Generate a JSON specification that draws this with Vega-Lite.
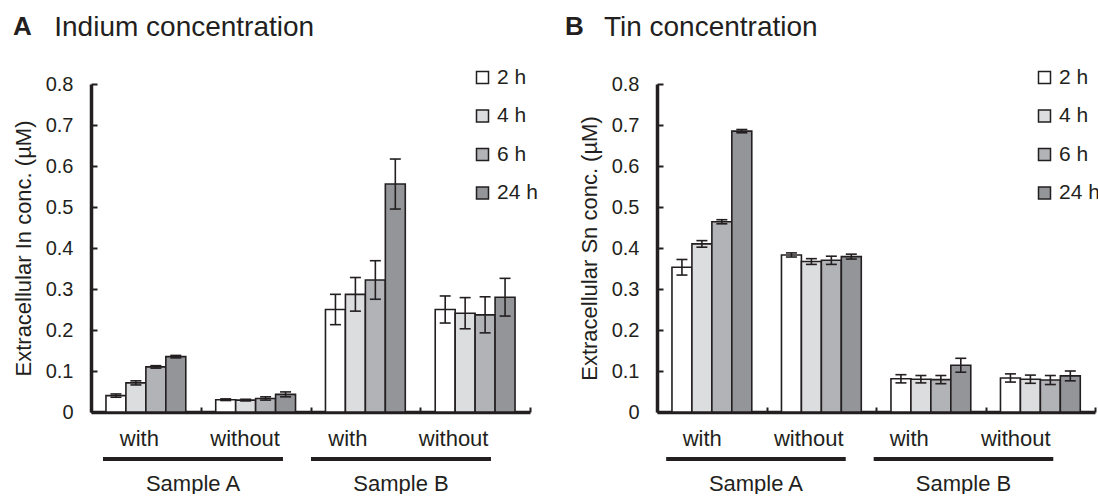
{
  "$schema": "https://vega.github.io/schema/vega-lite/v6.json",
  "padding": {"left": 12, "top": 14, "right": 0, "bottom": 0},
  "spacing": 27,
  "config": {
    "view": {"stroke": null},
    "font": "Liberation Sans",
    "axis": {"labelColor": "#231f20", "titleColor": "#231f20", "domainColor": "#231f20", "tickColor": "#231f20", "grid": false},
    "legend": {"labelColor": "#231f20"}
  },
  "datasets": {
    "inData": [
      {"group": "A with", "time": "2 h", "value": 0.040, "lo": 0.036, "hi": 0.044},
      {"group": "A with", "time": "4 h", "value": 0.071, "lo": 0.066, "hi": 0.076},
      {"group": "A with", "time": "6 h", "value": 0.110, "lo": 0.107, "hi": 0.113},
      {"group": "A with", "time": "24 h", "value": 0.135, "lo": 0.132, "hi": 0.138},
      {"group": "A without", "time": "2 h", "value": 0.030, "lo": 0.028, "hi": 0.032},
      {"group": "A without", "time": "4 h", "value": 0.029, "lo": 0.027, "hi": 0.031},
      {"group": "A without", "time": "6 h", "value": 0.033, "lo": 0.029, "hi": 0.037},
      {"group": "A without", "time": "24 h", "value": 0.043, "lo": 0.037, "hi": 0.049},
      {"group": "B with", "time": "2 h", "value": 0.250, "lo": 0.213, "hi": 0.287},
      {"group": "B with", "time": "4 h", "value": 0.287, "lo": 0.246, "hi": 0.328},
      {"group": "B with", "time": "6 h", "value": 0.322, "lo": 0.275, "hi": 0.369},
      {"group": "B with", "time": "24 h", "value": 0.556, "lo": 0.495, "hi": 0.617},
      {"group": "B without", "time": "2 h", "value": 0.250, "lo": 0.217, "hi": 0.283},
      {"group": "B without", "time": "4 h", "value": 0.241, "lo": 0.203, "hi": 0.279},
      {"group": "B without", "time": "6 h", "value": 0.237, "lo": 0.193, "hi": 0.281},
      {"group": "B without", "time": "24 h", "value": 0.280, "lo": 0.234, "hi": 0.326}
    ],
    "snData": [
      {"group": "A with", "time": "2 h", "value": 0.353, "lo": 0.334, "hi": 0.372},
      {"group": "A with", "time": "4 h", "value": 0.410, "lo": 0.402, "hi": 0.418},
      {"group": "A with", "time": "6 h", "value": 0.464, "lo": 0.459, "hi": 0.469},
      {"group": "A with", "time": "24 h", "value": 0.685, "lo": 0.681, "hi": 0.689},
      {"group": "A without", "time": "2 h", "value": 0.383, "lo": 0.378, "hi": 0.388},
      {"group": "A without", "time": "4 h", "value": 0.367, "lo": 0.360, "hi": 0.374},
      {"group": "A without", "time": "6 h", "value": 0.370, "lo": 0.360, "hi": 0.380},
      {"group": "A without", "time": "24 h", "value": 0.379, "lo": 0.373, "hi": 0.385},
      {"group": "B with", "time": "2 h", "value": 0.081, "lo": 0.071, "hi": 0.091},
      {"group": "B with", "time": "4 h", "value": 0.080, "lo": 0.071, "hi": 0.089},
      {"group": "B with", "time": "6 h", "value": 0.079, "lo": 0.069, "hi": 0.089},
      {"group": "B with", "time": "24 h", "value": 0.114, "lo": 0.097, "hi": 0.131},
      {"group": "B without", "time": "2 h", "value": 0.083, "lo": 0.073, "hi": 0.093},
      {"group": "B without", "time": "4 h", "value": 0.080, "lo": 0.070, "hi": 0.090},
      {"group": "B without", "time": "6 h", "value": 0.078, "lo": 0.067, "hi": 0.089},
      {"group": "B without", "time": "24 h", "value": 0.088, "lo": 0.076, "hi": 0.100}
    ],
    "samples": [{"sample": "Sample A"}, {"sample": "Sample B"}]
  },
  "resolve": {"scale": {"color": "independent"}, "legend": {"color": "independent"}},
  "hconcat": [
    {
      "width": 439,
      "height": 328,
      "title": {"text": "A", "subtitle": "\u200b\u00a0\u00a0\u00a0\u00a0\u00a0\u200aIndium concentration", "anchor": "start", "frame": "group", "dx": -78, "fontSize": 26, "fontWeight": "bold", "color": "#231f20", "subtitleFontSize": 28, "subtitleColor": "#231f20", "subtitlePadding": -26, "offset": 25},
      "resolve": {"scale": {"x": "independent"}, "axis": {"x": "independent"}},
      "layer": [
        {
          "data": {"name": "inData"},
          "layer": [
            {
              "mark": {"type": "bar", "stroke": "#231f20", "strokeWidth": 1.6},
              "encoding": {
                "x": {"field": "group", "type": "nominal", "sort": null, "scale": {"paddingInner": 0, "paddingOuter": 0},
                  "axis": {"title": null, "labelAngle": 0, "labelExpr": "split(datum.label, ' ')[1]", "labelFontSize": 22, "labelPadding": 21, "tickBand": "extent", "tickSize": -5, "tickWidth": 2, "domainWidth": 3.5, "labelOverlap": false, "labelBound": false,
                    "labelOffset": {"condition": [{"test": "datum.value == 'A with'", "value": -7}, {"test": "datum.value == 'A without'", "value": -11}, {"test": "datum.value == 'B with'", "value": -18}], "value": -22}}},
                "xOffset": {"field": "time", "type": "nominal", "scale": {"domain": ["2 h", "4 h", "6 h", "24 h"], "paddingInner": 0, "paddingOuter": 0.75}},
                "y": {"field": "value", "type": "quantitative", "scale": {"domain": [0, 0.8]},
                  "axis": {"title": "Extracellular In conc. (µM)", "values": [0, 0.1, 0.2, 0.3, 0.4, 0.5, 0.6, 0.7, 0.8], "labelExpr": "datum.value == 0 ? '0' : format(datum.value, '.1f')", "labelFontSize": 20, "labelPadding": 24, "tickSize": -6, "tickWidth": 2, "domainWidth": 3.5, "titleFontSize": 22, "titleFontWeight": "normal", "titlePadding": 10}},
                "color": {"field": "time", "type": "nominal", "scale": {"domain": ["2 h", "4 h", "6 h", "24 h"], "range": ["#ffffff", "#dcdddf", "#b2b3b6", "#939598"]},
                  "legend": {"title": null, "orient": "none", "legendX": 381, "legendY": -17, "direction": "vertical", "labelFontSize": 21, "symbolType": "square", "symbolSize": 144, "symbolStrokeColor": "#231f20", "symbolStrokeWidth": 1.5, "rowPadding": 16.5, "labelOffset": 4, "padding": 0}}
              }
            },
            {
              "mark": {"type": "rule", "color": "#231f20", "strokeWidth": 1.6},
              "encoding": {
                "x": {"field": "group", "type": "nominal", "sort": null},
                "xOffset": {"field": "time", "type": "nominal"},
                "y": {"field": "lo", "type": "quantitative"},
                "y2": {"field": "hi"}
              }
            },
            {
              "mark": {"type": "tick", "orient": "horizontal", "color": "#231f20", "size": 11, "thickness": 1.6, "opacity": 1},
              "encoding": {
                "x": {"field": "group", "type": "nominal", "sort": null},
                "xOffset": {"field": "time", "type": "nominal"},
                "y": {"field": "lo", "type": "quantitative"}
              }
            },
            {
              "mark": {"type": "tick", "orient": "horizontal", "color": "#231f20", "size": 11, "thickness": 1.6, "opacity": 1},
              "encoding": {
                "x": {"field": "group", "type": "nominal", "sort": null},
                "xOffset": {"field": "time", "type": "nominal"},
                "y": {"field": "hi", "type": "quantitative"}
              }
            }
          ]
        },
        {
          "data": {"name": "samples"},
          "mark": {"type": "bar", "color": "#231f20", "clip": false},
          "encoding": {
            "x": {"field": "sample", "type": "nominal", "scale": {"paddingInner": 0.1346, "paddingOuter": 0.1226, "align": 0.235},
              "axis": {"title": null, "orient": "bottom", "labelAngle": 0, "domain": false, "ticks": false, "labelFontSize": 22, "labelPadding": 61, "labelColor": "#231f20"}},
            "y": {"datum": -0.1098},
            "y2": {"datum": -0.1195}
          }
        }
      ]
    },
    {
      "width": 438,
      "height": 328,
      "title": {"text": "B", "subtitle": "\u200b\u00a0\u00a0\u00a0\u00a0\u00a0Tin concentration", "anchor": "start", "frame": "group", "dx": -92, "fontSize": 26, "fontWeight": "bold", "color": "#231f20", "subtitleFontSize": 28, "subtitleColor": "#231f20", "subtitlePadding": -26, "offset": 25},
      "resolve": {"scale": {"x": "independent"}, "axis": {"x": "independent"}},
      "layer": [
        {
          "data": {"name": "snData"},
          "layer": [
            {
              "mark": {"type": "bar", "stroke": "#231f20", "strokeWidth": 1.6},
              "encoding": {
                "x": {"field": "group", "type": "nominal", "sort": null, "scale": {"paddingInner": 0, "paddingOuter": 0},
                  "axis": {"title": null, "labelAngle": 0, "labelExpr": "split(datum.label, ' ')[1]", "labelFontSize": 22, "labelPadding": 21, "tickBand": "extent", "tickSize": -5, "tickWidth": 2, "domainWidth": 3.5, "labelOverlap": false, "labelBound": false,
                    "labelOffset": {"condition": [{"test": "datum.value == 'A with'", "value": -10}, {"test": "datum.value == 'A without'", "value": -13}, {"test": "datum.value == 'B with'", "value": -22}], "value": -25}}},
                "xOffset": {"field": "time", "type": "nominal", "scale": {"domain": ["2 h", "4 h", "6 h", "24 h"], "paddingInner": 0, "paddingOuter": 0.75}},
                "y": {"field": "value", "type": "quantitative", "scale": {"domain": [0, 0.8]},
                  "axis": {"title": "Extracellular Sn conc. (µM)", "values": [0, 0.1, 0.2, 0.3, 0.4, 0.5, 0.6, 0.7, 0.8], "labelExpr": "datum.value == 0 ? '0' : format(datum.value, '.1f')", "labelFontSize": 20, "labelPadding": 24, "tickSize": -6, "tickWidth": 2, "domainWidth": 3.5, "titleFontSize": 22, "titleFontWeight": "normal", "titlePadding": 10}},
                "color": {"field": "time", "type": "nominal", "scale": {"domain": ["2 h", "4 h", "6 h", "24 h"], "range": ["#ffffff", "#dcdddf", "#b2b3b6", "#939598"]},
                  "legend": {"title": null, "orient": "none", "legendX": 377, "legendY": -17, "direction": "vertical", "labelFontSize": 21, "symbolType": "square", "symbolSize": 144, "symbolStrokeColor": "#231f20", "symbolStrokeWidth": 1.5, "rowPadding": 16.5, "labelOffset": 4, "padding": 0}}
              }
            },
            {
              "mark": {"type": "rule", "color": "#231f20", "strokeWidth": 1.6},
              "encoding": {
                "x": {"field": "group", "type": "nominal", "sort": null},
                "xOffset": {"field": "time", "type": "nominal"},
                "y": {"field": "lo", "type": "quantitative"},
                "y2": {"field": "hi"}
              }
            },
            {
              "mark": {"type": "tick", "orient": "horizontal", "color": "#231f20", "size": 11, "thickness": 1.6, "opacity": 1},
              "encoding": {
                "x": {"field": "group", "type": "nominal", "sort": null},
                "xOffset": {"field": "time", "type": "nominal"},
                "y": {"field": "lo", "type": "quantitative"}
              }
            },
            {
              "mark": {"type": "tick", "orient": "horizontal", "color": "#231f20", "size": 11, "thickness": 1.6, "opacity": 1},
              "encoding": {
                "x": {"field": "group", "type": "nominal", "sort": null},
                "xOffset": {"field": "time", "type": "nominal"},
                "y": {"field": "hi", "type": "quantitative"}
              }
            }
          ]
        },
        {
          "data": {"name": "samples"},
          "mark": {"type": "bar", "color": "#231f20", "clip": false},
          "encoding": {
            "x": {"field": "sample", "type": "nominal", "scale": {"paddingInner": 0.1346, "paddingOuter": 0.1226, "align": 0.18},
              "axis": {"title": null, "orient": "bottom", "labelAngle": 0, "domain": false, "ticks": false, "labelFontSize": 22, "labelPadding": 61, "labelColor": "#231f20"}},
            "y": {"datum": -0.1098},
            "y2": {"datum": -0.1195}
          }
        }
      ]
    }
  ]
}
